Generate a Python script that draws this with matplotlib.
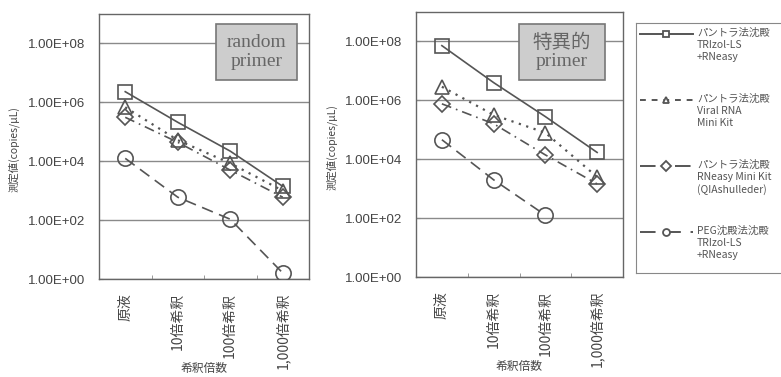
import numpy as np
import matplotlib
matplotlib.use("Agg")
import matplotlib.pyplot as plt
from matplotlib.patches import Rectangle
from matplotlib.ticker import FixedLocator, NullFormatter

plt.rcParams['font.family'] = ['Liberation Sans', 'Noto Sans CJK JP', 'DejaVu Sans']

# ---- donnees ----
categories = ['原液', '10倍希釈', '100倍希釈', '1,000倍希釈']

rand_sq = [2.3e6, 2.1e5, 2.2e4, 1.4e3]
rand_tri = [6.8e5, 5.2e4, 8.5e3, 1.0e3]
rand_dia = [3.1e5, 4.4e4, 5.0e3, 6.0e2]
rand_cir = [1.25e4, 6.0e2, 1.07e2, 1.6]

spec_sq = [7.2e7, 4.0e6, 2.8e5, 1.7e4]
spec_tri = [2.9e6, 3.2e5, 7.9e4, 2.5e3]
spec_dia = [7.6e5, 1.6e5, 1.4e4, 1.45e3]
spec_cir = [4.6e4, 2.0e3, 1.26e2, np.nan]

series_labels = ["パントラ法沈殿\nTRIzol-LS\n+RNeasy",
                 "パントラ法沈殿\nViral RNA\nMini Kit",
                 "パントラ法沈殿\nRNeasy Mini Kit\n(QIAshulleder)",
                 "PEG沈殿法沈殿\nTRIzol-LS\n+RNeasy"]

panel_titles = ["random\nprimer", "特異的\nprimer"]

# ---- styles ----
gris = "#555555"
styles = [dict(marker='s', ls='-', lw=1.2),
          dict(marker='^', ls=(0, (1, 2.5)), lw=1.6),
          dict(marker='D', ls=(0, (6, 3, 1, 3)), lw=1.2),
          dict(marker='o', ls=(0, (7, 4)), lw=1.2)]
msizes = [10, 10, 8, 11]
jp = ['Noto Sans CJK JP', 'DejaVu Sans']

fig = plt.figure(figsize=(7.81, 3.77), dpi=100)
ax1 = fig.add_axes([99/781, 1-279/377, 210/781, 265/377])
ax2 = fig.add_axes([416/781, 1-277/377, 207/781, 265/377])

x = np.arange(len(categories))
panels = [(ax1, [rand_sq, rand_tri, rand_dia, rand_cir], (0.557, 0.751, 0.386, 0.211)),
          (ax2, [spec_sq, spec_tri, spec_dia, spec_cir], (0.498, 0.743, 0.415, 0.211))]

for p, (ax, data, box) in enumerate(panels):
    for i, y in enumerate(data):
        ax.plot(x, y, color=gris, markersize=msizes[i], markeredgewidth=1.2,
                markerfacecolor='none', markeredgecolor=gris, zorder=3, **styles[i])
    ax.set_yscale('log')
    ax.set_ylim(1, 1e9)
    ax.set_xlim(-0.5, 3.5)
    ax.yaxis.set_major_locator(FixedLocator([1, 1e2, 1e4, 1e6, 1e8]))
    ax.yaxis.set_minor_locator(FixedLocator([]))
    ax.yaxis.set_minor_formatter(NullFormatter())
    ax.set_yticklabels(["1.00E+00", "1.00E+02", "1.00E+04", "1.00E+06", "1.00E+08"])
    ax.grid(axis='y', color="#8a8a8a", lw=1.0)
    ax.set_xticks(x)
    ax.set_xticklabels(categories, rotation=90, fontsize=10, color="#444444", family=jp)
    ax.set_xticks([0.5, 1.5, 2.5], minor=True)
    ax.tick_params(axis='x', which='major', length=0, pad=10)
    ax.tick_params(axis='x', which='minor', direction='in', length=3, color="#888888")
    ax.tick_params(axis='y', length=3, direction='in', color="#888888",
                   labelsize=9.5, labelcolor="#444444", pad=10)
    for s in ax.spines.values():
        s.set_color("#666666")
        s.set_linewidth(1.0)
    ax.set_ylabel("測定値(copies/μL)", fontsize=7.5, color="#444444", family=jp)
    ax.yaxis.set_label_coords(-0.38, 0.49)
    ax.set_xlabel("希釈倍数", fontsize=8.5, color="#444444", family=jp)
    ax.xaxis.set_label_coords(0.5, -0.315)
    # encadre du titre
    ax.add_patch(Rectangle((box[0], box[1]), box[2], box[3], transform=ax.transAxes,
                           facecolor="#cdcdcd", edgecolor="#777777", lw=1.2, zorder=4))
    ax.text(box[0] + box[2]/2, box[1] + box[3]/2, panel_titles[p], transform=ax.transAxes,
            ha='center', va='center', fontsize=14, color="#666666", linespacing=1.1,
            family=['Liberation Serif', 'Noto Sans CJK JP'], zorder=5)

# ---- legende ----
axl = fig.add_axes([636/781, 1-273/377, 200/781, 250/377])
axl.set_xlim(0, 200)
axl.set_ylim(250, 0)
axl.set_xticks([])
axl.set_yticks([])
for s in axl.spines.values():
    s.set_color("#888888")
leg_ls = ['-', (0, (3, 3)), (0, (8, 4, 2, 4)), (0, (8, 5))]
for i, lab in enumerate(series_labels):
    yy = 11 + i * 66
    axl.plot([4, 57], [yy, yy], color=gris, ls=leg_ls[i], lw=1.4)
    axl.plot([30], [yy], color=gris, marker=styles[i]['marker'], markersize=5,
             markerfacecolor='white', markeredgecolor=gris, markeredgewidth=1.3)
    axl.text(61, yy - 6, lab, fontsize=7.5, color="#555555", va='top', ha='left',
             linespacing=1.25, family=jp)

fig.savefig("out.png", dpi=100)
